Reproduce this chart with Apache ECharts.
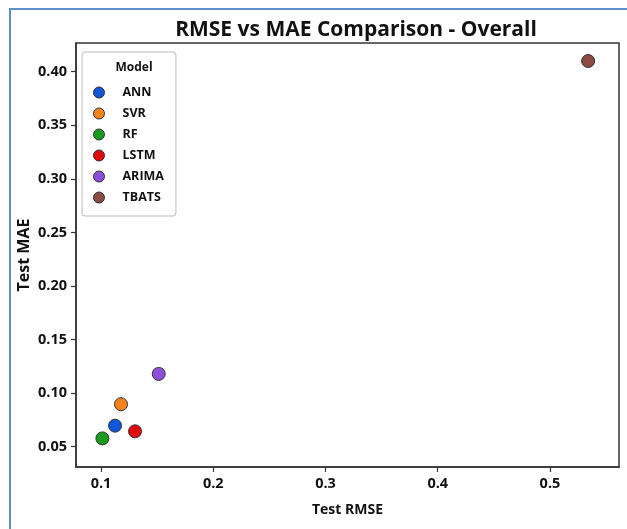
<!DOCTYPE html>
<html><head><meta charset="utf-8">
<script src="https://cdn.jsdelivr.net/npm/echarts@6/dist/echarts.min.js"></script>
<style>html,body{margin:0;padding:0;background:#fff;}#c{width:627px;height:529px;}</style>
</head><body><div id="c"></div>
<script>
const models = ['ANN','SVR','RF','LSTM','ARIMA','TBATS'];
const testRMSE = [0.1125, 0.1178, 0.1012, 0.1303, 0.1514, 0.534];
const testMAE  = [0.0696, 0.0896, 0.0577, 0.0643, 0.1179, 0.410];
const colors = ['#1256d8','#f7821c','#179c1e','#e00a0a','#8d4fd8','#8b4a42'];
const xTicks = [0.1,0.2,0.3,0.4,0.5];
const yTicks = [0.05,0.10,0.15,0.20,0.25,0.30,0.35,0.40];

const FONT = 'Open Sans';
const chart = echarts.init(document.getElementById('c'), null, {renderer:'canvas'});
chart.setOption({
  animation:false,
  backgroundColor:'#fff',
  textStyle:{fontFamily:FONT},
  title:[
    {text:'RMSE vs MAE Comparison - Overall', left:351, top:15, textAlign:'center',
     textStyle:{fontFamily:FONT, fontWeight:'bold', fontSize:21, color:'#111'}},
    {text:'Model', left:129, top:57, textAlign:'center',
     textStyle:{fontFamily:FONT, fontWeight:'bold', fontSize:12, color:'#111'}}
  ],
  graphic:[
    {type:'rect', shape:{x:10, y:9, width:700, height:600}, style:{fill:'none', stroke:'#5b8fd0', lineWidth:2}, z:0, silent:true}
  ],
  legend:{
    orient:'vertical', left:82, top:52,
    padding:[32,12,10,11],
    itemWidth:11, itemHeight:11, itemGap:4,
    icon:'circle',
    borderColor:'#bbb', borderWidth:1, borderRadius:3,
    backgroundColor:'#fff',
    itemStyle:{borderColor:'#333', borderWidth:1, opacity:1},
    textStyle:{fontFamily:FONT, fontWeight:'bold', fontSize:12.5, color:'#111', padding:[0,0,0,13], lineHeight:17},
    data: models
  },
  grid:{left:76, right:8, top:43, bottom:62, show:true, borderColor:'#333', borderWidth:1.5, containLabel:false},
  xAxis:{
    type:'value', min:0.0777, max:0.5615,
    name:'Test RMSE', nameLocation:'middle', nameGap:36, nameMoveOverlap:false,
    nameTextStyle:{fontFamily:FONT, fontWeight:'bold', fontSize:14, color:'#111'},
    splitLine:{show:false},
    axisLine:{show:true, lineStyle:{color:'#333', width:1.5}},
    axisTick:{show:true, length:5, lineStyle:{color:'#333', width:1.2}, customValues:xTicks},
    axisLabel:{fontFamily:FONT, fontWeight:'bold', fontSize:14.5, color:'#111', margin:9, customValues:xTicks,
      formatter:v=>v.toFixed(1)}
  },
  yAxis:{
    type:'value', min:0.031, max:0.4268,
    name:'Test MAE', nameLocation:'middle', nameGap:44, nameRotate:90, nameMoveOverlap:false,
    nameTextStyle:{fontFamily:FONT, fontWeight:'bold', fontSize:16, color:'#111'},
    splitLine:{show:false},
    axisLine:{show:true, lineStyle:{color:'#333', width:1.5}},
    axisTick:{show:true, length:5, lineStyle:{color:'#333', width:1.2}, customValues:yTicks},
    axisLabel:{fontFamily:FONT, fontWeight:'bold', fontSize:14.5, color:'#111', margin:9, customValues:yTicks,
      formatter:v=>v.toFixed(2)}
  },
  series: models.map((m,i)=>({
    name:m, type:'scatter', symbol:'circle', symbolSize:13,
    itemStyle:{color:colors[i], borderColor:'#333', borderWidth:1, opacity:1},
    data:[[testRMSE[i], testMAE[i]]]
  }))
});
</script></body></html>
